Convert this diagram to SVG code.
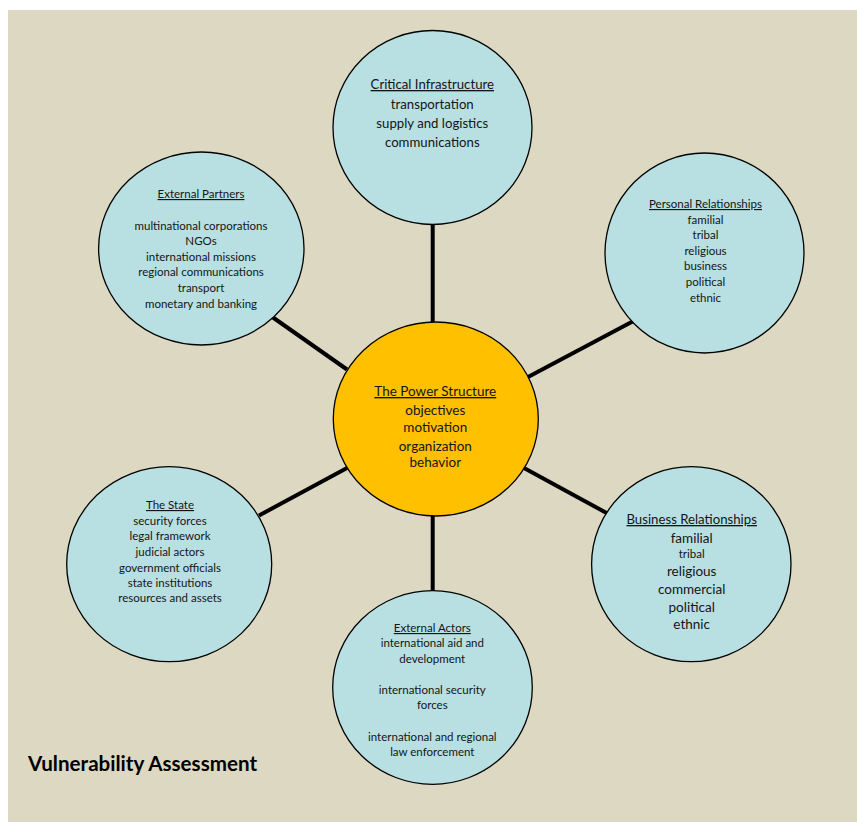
<svg xmlns="http://www.w3.org/2000/svg" width="857" height="822" viewBox="0 0 857 822">
<style>
  .bg { fill: #DDD8C2; }
  .node { fill: #B8DFE2; stroke: #000; stroke-width: 1.3; }
  .core { fill: #FFC000; stroke: #000; stroke-width: 1.3; }
  .conn { stroke: #000; stroke-width: 4; fill: none; }
  text { font-family: Lato, "Liberation Sans", sans-serif; fill: #151515; text-anchor: middle; }
  .u { text-decoration: underline; }
  .s { font-size: 11.5px; }
  .m { font-size: 13.5px; }
  .m2 { font-size: 13.2px; }
  .title { font-size: 20.6px; font-weight: bold; text-anchor: start; fill: #000; }
</style>
<rect class="bg" x="8" y="10" width="849" height="812"/>
<g id="connectors">
  <line class="conn" x1="432.7" y1="222" x2="432.7" y2="324"/>
  <line class="conn" x1="642" y1="316.5" x2="528" y2="377"/>
  <line class="conn" x1="273" y1="317.5" x2="347" y2="369.5"/>
  <line class="conn" x1="259" y1="515.5" x2="347" y2="468"/>
  <line class="conn" x1="524" y1="468" x2="613" y2="516.5"/>
  <line class="conn" x1="432.7" y1="514" x2="432.7" y2="593"/>
</g>
<g id="critical-infrastructure">
  <ellipse class="node" cx="432.5" cy="127.5" rx="99.5" ry="97"/>
  <text class="m2"><tspan class="u" x="432.3" y="89">Critical Infrastructure</tspan><tspan x="432.3" y="109">transportation</tspan><tspan x="432.3" y="128">supply and logistics</tspan><tspan x="432.3" y="147">communications</tspan></text>
</g>
<g id="personal-relationships">
  <ellipse class="node" cx="704.5" cy="253" rx="99.5" ry="100"/>
  <text class="s"><tspan class="u" x="705.5" y="208">Personal Relationships</tspan><tspan x="705.5" y="224">familial</tspan><tspan x="705.5" y="239">tribal</tspan><tspan x="705.5" y="255">religious</tspan><tspan x="705.5" y="270">business</tspan><tspan x="705.5" y="286">political</tspan><tspan x="705.5" y="302">ethnic</tspan></text>
</g>
<g id="external-partners">
  <ellipse class="node" cx="201.3" cy="248.5" rx="102.7" ry="96.5"/>
  <text class="s"><tspan class="u" x="201" y="198">External Partners</tspan><tspan x="201" y="230">multinational corporations</tspan><tspan x="201" y="245">NGOs</tspan><tspan x="201" y="261">international missions</tspan><tspan x="201" y="276">regional communications</tspan><tspan x="201" y="291.5">transport</tspan><tspan x="201" y="307.5">monetary and banking</tspan></text>
</g>
<g id="power-structure">
  <ellipse class="core" cx="435.8" cy="419" rx="102.5" ry="97"/>
  <text class="m"><tspan class="u" x="435.3" y="396">The Power Structure</tspan><tspan x="435.3" y="415">objectives</tspan><tspan x="435.3" y="432">motivation</tspan><tspan x="435.3" y="450.5">organization</tspan><tspan x="435.3" y="467">behavior</tspan></text>
</g>
<g id="the-state">
  <ellipse class="node" cx="169.2" cy="564.2" rx="102.5" ry="97.5"/>
  <text class="s"><tspan class="u" x="170" y="509">The State</tspan><tspan x="170" y="525">security forces</tspan><tspan x="170" y="540">legal framework</tspan><tspan x="170" y="555.5">judicial actors</tspan><tspan x="170" y="571.5">government officials</tspan><tspan x="170" y="587">state institutions</tspan><tspan x="170" y="602">resources and assets</tspan></text>
</g>
<g id="business-relationships">
  <ellipse class="node" cx="691.3" cy="564.2" rx="99.7" ry="97.5"/>
  <text class="m2"><tspan class="u" x="691.7" y="524">Business Relationships</tspan><tspan class="m" x="691.7" y="542.5">familial</tspan><tspan class="s" x="691.7" y="558">tribal</tspan><tspan class="m" x="691.7" y="576">religious</tspan><tspan class="m" x="691.7" y="594">commercial</tspan><tspan class="m" x="691.7" y="612">political</tspan><tspan class="m" x="691.7" y="628.5">ethnic</tspan></text>
</g>
<g id="external-actors">
  <ellipse class="node" cx="432.5" cy="687.5" rx="99.8" ry="96.8"/>
  <text class="s"><tspan class="u" x="432.3" y="632">External Actors</tspan><tspan x="432.3" y="647">international aid and</tspan><tspan x="432.3" y="663">development</tspan><tspan x="432.3" y="694">international security</tspan><tspan x="432.3" y="709">forces</tspan><tspan x="432.3" y="741">international and regional</tspan><tspan x="432.3" y="756">law enforcement</tspan></text>
</g>
<text class="title" x="28" y="771">Vulnerability Assessment</text>
</svg>
